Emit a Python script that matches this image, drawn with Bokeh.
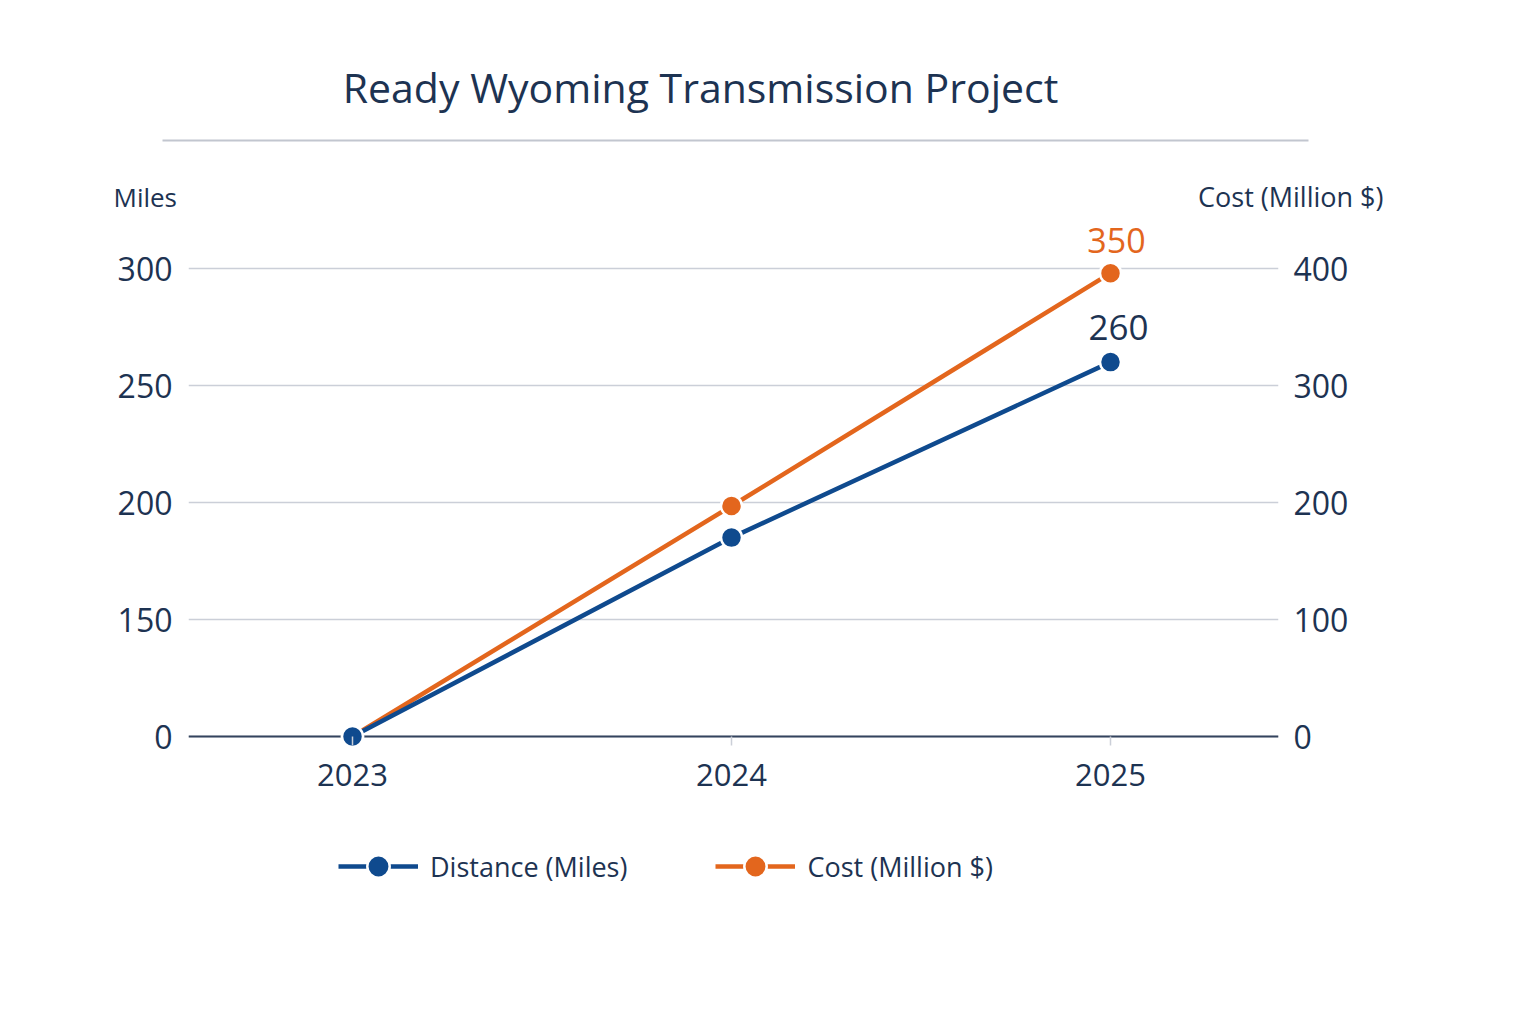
import numpy as np
from bokeh.plotting import figure
from bokeh.layouts import column
from bokeh.models import (Range1d, FixedTicker, LinearAxis, Span,
                          Legend, LegendItem, ColumnDataSource)
from bokeh.core.properties import value
from bokeh.embed import file_html
from bokeh.resources import INLINE

# ---------------- data ----------------
title_text = "Ready Wyoming Transmission Project"
left_axis_title = "Miles"
right_axis_title = "Cost (Million $)"
years = [2023, 2024, 2025]
distance_miles = [0, 185, 260]
cost_million = [0, 197, 396]
cost_end_label = "350"          # label printed on the chart
miles_ticks = [0, 150, 200, 250, 300]
cost_ticks = [0, 100, 200, 300, 400]
series_names = ["Distance (Miles)", "Cost (Million $)"]

# ---------------- styling ----------------
FONT = "Open Sans"
NAVY = "#1d3352"
BLUE = "#0f4a8e"
ORANGE = "#e3661d"
GRID = "#cbcfd8"

W = 1520
HEAD_H = 216                       # header strip (title, rule, axis titles)
MAIN_H = 1000 - HEAD_H
F_LEFT, F_RIGHT, F_BOTTOM = 188, 1278, 900     # main frame, page pixels
X0_PX, X2_PX = 352, 1110           # first / last year
Y0_PX, Y4_PX = 736, 268            # 0 / top gridline

xs = (X2_PX - X0_PX) / (years[-1] - years[0])
x_start = years[0] - (X0_PX - F_LEFT) / xs
x_end = years[-1] + (F_RIGHT - X2_PX) / xs
ys = (Y0_PX - Y4_PX) / cost_ticks[-1]
y_start = -(F_BOTTOM - Y0_PX) / ys
y_end = cost_ticks[-1] + (Y4_PX - HEAD_H) / ys

# ---------------- header ----------------
h = figure(width=W, height=HEAD_H, output_backend="svg", toolbar_location=None,
           x_range=Range1d(0, W), y_range=Range1d(HEAD_H, 0),
           x_axis_location=None, y_axis_location=None,
           min_border=0, min_border_left=0, min_border_right=0,
           min_border_top=0, min_border_bottom=0)
h.outline_line_color = None
h.grid.visible = False
h.text(x=[700], y=[86], text=[title_text], text_font=value(FONT),
       text_font_size="41px", text_color=NAVY, text_align="center",
       text_baseline="middle")
h.segment(x0=[162], y0=[140], x1=[1308], y1=[140], line_color="#c2c6cf",
          line_width=2)
h.text(x=[113], y=[196], text=[left_axis_title], text_font=value(FONT),
       text_font_size="26px", text_color=NAVY, text_align="left",
       text_baseline="middle")
h.text(x=[1383], y=[196], text=[right_axis_title], text_font=value(FONT),
       text_font_size="27px", text_color=NAVY, text_align="right",
       text_baseline="middle")

# ---------------- main chart ----------------
# the left (miles) axis shares gridlines with the cost axis
distance_on_grid = np.interp(distance_miles, miles_ticks, cost_ticks)

p = figure(width=W, height=MAIN_H, output_backend="svg", toolbar_location=None,
           x_range=Range1d(x_start, x_end), y_range=Range1d(y_start, y_end),
           min_border_left=F_LEFT, min_border_right=W - F_RIGHT,
           min_border_top=0, min_border_bottom=MAIN_H - (F_BOTTOM - HEAD_H))
p.outline_line_color = None
p.xgrid.grid_line_color = None
p.ygrid.ticker = FixedTicker(ticks=cost_ticks)
p.ygrid.grid_line_color = GRID
p.ygrid.grid_line_width = 1.5

xa = p.xaxis[0]
xa.ticker = FixedTicker(ticks=years)
xa.fixed_location = 0
xa.axis_line_color = None
xa.major_tick_line_color = GRID
xa.major_tick_line_width = 1.5
xa.major_tick_in = 0
xa.major_tick_out = 9
xa.minor_tick_line_color = None
xa.major_label_text_font = FONT
xa.major_label_text_font_size = "31px"
xa.major_label_text_color = NAVY
xa.major_label_standoff = 18

ya = p.yaxis[0]
ya.ticker = FixedTicker(ticks=cost_ticks)
ya.major_label_overrides = {c: str(m) for c, m in zip(cost_ticks, miles_ticks)}
ya.axis_line_color = None
ya.major_tick_line_color = None
ya.major_tick_out = 0
ya.major_tick_in = 0
ya.minor_tick_line_color = None
ya.major_label_text_font = FONT
ya.major_label_text_font_size = "32px"
ya.major_label_text_color = NAVY
ya.major_label_standoff = 16

ra = LinearAxis(ticker=FixedTicker(ticks=cost_ticks))
ra.axis_line_color = None
ra.major_tick_line_color = None
ra.major_tick_out = 0
ra.major_tick_in = 0
ra.minor_tick_line_color = None
ra.major_label_text_font = FONT
ra.major_label_text_font_size = "32px"
ra.major_label_text_color = NAVY
ra.major_label_standoff = 15
p.add_layout(ra, "right")

p.add_layout(Span(location=0, dimension="width", line_color="#34445e",
                  line_width=2.2, level="underlay"))

src = ColumnDataSource(dict(x=years, dist=distance_on_grid, cost=cost_million))

l_cost = p.line("x", "cost", source=src, line_color=ORANGE, line_width=4.5)
c_cost = p.scatter("x", "cost", source=src, size=21, fill_color=ORANGE,
                   line_color="white", line_width=2.5)
l_dist = p.line("x", "dist", source=src, line_color=BLUE, line_width=4.5)
c_dist = p.scatter("x", "dist", source=src, size=21, fill_color=BLUE,
                   line_color="white", line_width=2.5)

p.text(x=[years[-1]], y=[cost_million[-1]], text=[cost_end_label],
       text_font=value(FONT), text_font_size="34px", text_color=ORANGE,
       text_align="center", text_baseline="middle", x_offset=6, y_offset=-33)
p.text(x=[years[-1]], y=[distance_on_grid[-1]], text=[str(distance_miles[-1])],
       text_font=value(FONT), text_font_size="35px", text_color=NAVY,
       text_align="center", text_baseline="middle", x_offset=8, y_offset=-35)

legend = Legend(items=[LegendItem(label=series_names[0], renderers=[l_dist, c_dist]),
                       LegendItem(label=series_names[1], renderers=[l_cost, c_cost])],
                orientation="horizontal", location=(150, 6))
legend.glyph_width = 80
legend.glyph_height = 56
legend.label_standoff = 12
legend.spacing = 88
legend.padding = 0
legend.margin = 0
legend.border_line_color = None
legend.background_fill_alpha = 0
legend.label_text_font = FONT
legend.label_text_font_size = "27px"
legend.label_text_color = NAVY
p.add_layout(legend, "center")

# keep the header's frame full width (do not align it with the chart frame)
for fig in (h, p):
    if "frame_align" in fig.properties():
        fig.frame_align = False

layout = column(h, p, spacing=0)
open("out.html", "w").write(file_html(layout, INLINE))
